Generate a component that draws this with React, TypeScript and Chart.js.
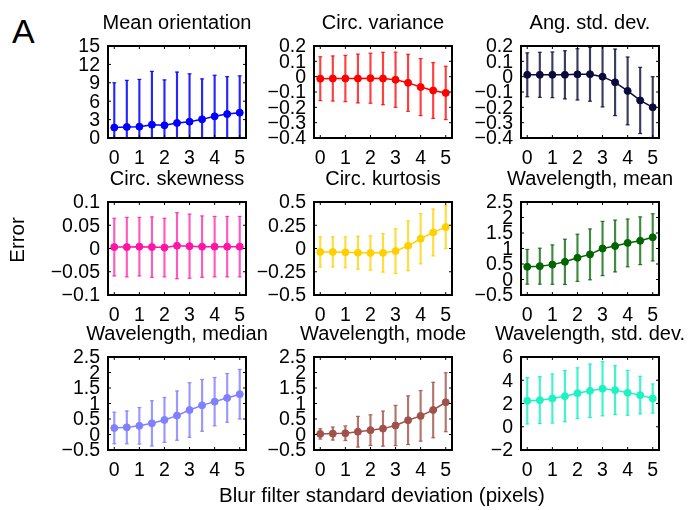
import React, { useEffect, useRef } from "react";
import { Chart, registerables } from "chart.js";

Chart.register(...registerables);

// ---------- data ----------
const X_VALUES = [0, 0.5, 1, 1.5, 2, 2.5, 3, 3.5, 4, 4.5, 5];
const X_TICKS = [0, 1, 2, 3, 4, 5];

const TITLES = [
  "Mean orientation",
  "Circ. variance",
  "Ang. std. dev.",
  "Circ. skewness",
  "Circ. kurtosis",
  "Wavelength, mean",
  "Wavelength, median",
  "Wavelength, mode",
  "Wavelength, std. dev.",
];

const meanOrientationMean = [1.7, 1.8, 1.85, 2.17, 2.07, 2.45, 2.66, 3.04, 3.53, 3.9, 4.13];
const meanOrientationErr = [7.3, 7.6, 7.7, 8.7, 7.4, 8.3, 7.8, 6.6, 6.7, 6.1, 6.0];

const circVarianceMean = [-0.013, -0.012, -0.012, -0.012, -0.01, -0.012, -0.02, -0.04, -0.068, -0.09, -0.106];
const circVarianceErr = [0.143, 0.147, 0.151, 0.159, 0.163, 0.171, 0.18, 0.186, 0.186, 0.182, 0.174];

const angStdMean = [0.012, 0.012, 0.012, 0.012, 0.015, 0.016, 0.0, -0.037, -0.093, -0.155, -0.2];
const angStdErr = [0.143, 0.147, 0.149, 0.157, 0.167, 0.176, 0.197, 0.217, 0.221, 0.216, 0.2];

const circSkewMean = [0.003, 0.003, 0.004, 0.003, 0.002, 0.006, 0.005, 0.004, 0.004, 0.004, 0.004];
const circSkewErr = [0.062, 0.064, 0.063, 0.065, 0.063, 0.071, 0.069, 0.066, 0.065, 0.065, 0.065];

const circKurtMean = [-0.037, -0.037, -0.041, -0.045, -0.048, -0.047, -0.028, 0.029, 0.105, 0.173, 0.23];
const circKurtErr = [0.162, 0.162, 0.166, 0.177, 0.184, 0.207, 0.24, 0.268, 0.27, 0.252, 0.23];

const wlMeanMean = [0.41, 0.43, 0.48, 0.57, 0.7, 0.81, 1.0, 1.08, 1.18, 1.25, 1.36];
const wlMeanErr = [0.56, 0.58, 0.635, 0.73, 0.76, 0.82, 0.875, 0.835, 0.77, 0.77, 0.76];

const wlMedianMean = [0.21, 0.23, 0.28, 0.36, 0.47, 0.61, 0.79, 0.94, 1.06, 1.18, 1.3];
const wlMedianErr = [0.51, 0.53, 0.59, 0.73, 0.725, 0.795, 0.88, 0.835, 0.78, 0.785, 0.8];

const wlModeMean = [0.02, 0.03, 0.04, 0.09, 0.14, 0.19, 0.29, 0.46, 0.6, 0.79, 1.04];
const wlModeErr = [0.165, 0.21, 0.235, 0.495, 0.495, 0.565, 0.65, 0.785, 0.815, 0.895, 0.95];

const wlStdMean = [2.23, 2.29, 2.43, 2.63, 2.89, 3.09, 3.27, 3.15, 2.92, 2.72, 2.43];
const wlStdErr = [1.99, 2.02, 2.11, 2.2, 2.18, 2.3, 2.33, 2.1, 1.93, 1.62, 1.25];

const MEANS = [meanOrientationMean, circVarianceMean, angStdMean, circSkewMean, circKurtMean, wlMeanMean, wlMedianMean, wlModeMean, wlStdMean];
const ERRS = [meanOrientationErr, circVarianceErr, angStdErr, circSkewErr, circKurtErr, wlMeanErr, wlMedianErr, wlModeErr, wlStdErr];

const Y_TICKS = [
  [0, 3, 6, 9, 12, 15],
  [-0.4, -0.3, -0.2, -0.1, 0, 0.1, 0.2],
  [-0.4, -0.3, -0.2, -0.1, 0, 0.1, 0.2],
  [-0.1, -0.05, 0, 0.05, 0.1],
  [-0.5, -0.25, 0, 0.25, 0.5],
  [-0.5, 0, 0.5, 1, 1.5, 2, 2.5],
  [-0.5, 0, 0.5, 1, 1.5, 2, 2.5],
  [-0.5, 0, 0.5, 1, 1.5, 2, 2.5],
  [-2, 0, 2, 4, 6],
];

const X_LABEL = "Blur filter standard deviation (pixels)";
const Y_LABEL = "Error";
const PANEL_LETTER = "A";

// ---------- styles / layout ----------
const LINE_COLORS = ["#0000ff", "#ff0000", "#0b0b3b", "#ff14a5", "#ffd000", "#006400", "#8080ff", "#a0524a", "#1ef2c3"];
const BAR_COLORS = [
  "rgba(0,0,255,0.85)",
  "rgba(255,0,0,0.75)",
  "rgba(11,11,59,0.8)",
  "rgba(255,20,165,0.7)",
  "rgba(255,208,0,0.75)",
  "rgba(0,100,0,0.75)",
  "rgba(128,128,255,0.8)",
  "rgba(160,82,74,0.8)",
  "rgba(30,242,195,0.85)",
];

const FONT = '"Liberation Sans", Arial, Helvetica, sans-serif';
const COL_LEFT = [108, 314, 521];
const ROW_TOP = [46, 202, 357];
const ROW_H = [92, 93, 93];
const BOX_W = 138;
const L = 72;
const R = 48;
const T = 42;
const B = 34;

function fmt(v: number): string {
  const s = String(Math.abs(v));
  return v < 0 ? "\u2212" + s : s;
}

const boxPlugin = {
  id: "matlabBox",
  afterDraw(chart: any) {
    const { ctx, chartArea: a, scales } = chart;
    ctx.save();
    ctx.strokeStyle = "#000";
    ctx.lineWidth = 1;
    ctx.beginPath();
    for (const t of scales.x.ticks) {
      const px = scales.x.getPixelForValue(t.value);
      ctx.moveTo(px, a.bottom);
      ctx.lineTo(px, a.bottom - 3);
      ctx.moveTo(px, a.top);
      ctx.lineTo(px, a.top + 3);
    }
    for (const t of scales.y.ticks) {
      const py = scales.y.getPixelForValue(t.value);
      ctx.moveTo(a.left, py);
      ctx.lineTo(a.left + 3, py);
      ctx.moveTo(a.right, py);
      ctx.lineTo(a.right - 3, py);
    }
    ctx.stroke();
    ctx.lineWidth = 2;
    ctx.strokeRect(a.left, a.top, a.right - a.left, a.bottom - a.top);
    const title = chart.options.plugins.panelTitle?.text;
    if (title) {
      ctx.fillStyle = "#000";
      ctx.font = `20px ${FONT}`;
      ctx.textAlign = "center";
      ctx.textBaseline = "middle";
      ctx.fillText(title, (a.left + a.right) / 2, a.top - 22.5);
    }
    ctx.restore();
  },
};

function Panel({ index }: { index: number }) {
  const ref = useRef<HTMLCanvasElement>(null);
  const col = index % 3;
  const row = Math.floor(index / 3);
  const W = L + BOX_W + R;
  const H = T + ROW_H[row] + B;
  const left = COL_LEFT[col] - L;
  const top = ROW_TOP[row] - T;

  useEffect(() => {
    const mean = MEANS[index];
    const err = ERRS[index];
    const yt = Y_TICKS[index];
    const color = LINE_COLORS[index];
    const barColor = BAR_COLORS[index];
    const chart = new Chart(ref.current as HTMLCanvasElement, {
      type: "line",
      data: {
        datasets: [
          {
            type: "line",
            data: X_VALUES.map((x, i) => ({ x, y: mean[i] })),
            borderColor: color,
            backgroundColor: color,
            pointBackgroundColor: color,
            pointBorderColor: color,
            pointRadius: 3.5,
            pointBorderWidth: 1,
            borderWidth: 1.5,
            tension: 0,
            clip: 0,
          },
          {
            type: "bar",
            data: X_VALUES.map((x, i) => ({ x, y: [mean[i] - err[i], mean[i] + err[i]] })),
            backgroundColor: barColor,
            borderWidth: 0,
            barThickness: 1.5,
            clip: 0,
          },
          {
            type: "line",
            showLine: false,
            data: X_VALUES.map((x, i) => ({ x, y: mean[i] - err[i] })),
            pointStyle: "line",
            pointRadius: 2,
            pointBorderWidth: 1.2,
            pointBorderColor: barColor,
            borderColor: barColor,
            clip: 0,
          },
          {
            type: "line",
            showLine: false,
            data: X_VALUES.map((x, i) => ({ x, y: mean[i] + err[i] })),
            pointStyle: "line",
            pointRadius: 2,
            pointBorderWidth: 1.2,
            pointBorderColor: barColor,
            borderColor: barColor,
            clip: 0,
          },
        ] as any,
      },
      options: {
        responsive: false,
        animation: false,
        devicePixelRatio: 1,
        events: [],
        layout: { padding: { left: 0, right: R, top: T, bottom: 0 } },
        plugins: {
          legend: { display: false },
          tooltip: { enabled: false },
          title: { display: false },
          panelTitle: { text: TITLES[index] },
        } as any,
        scales: {
          x: {
            type: "linear",
            min: -0.25,
            max: 5.25,
            offset: false,
            grid: { display: false, drawTicks: false },
            border: { display: false },
            ticks: {
              color: "#000",
              font: { family: FONT, size: 19.5 },
              padding: 9,
              autoSkip: false,
              maxRotation: 0,
              callback: (v: any) => fmt(Number(v)),
            },
            afterBuildTicks: (s: any) => {
              s.ticks = X_TICKS.map((v) => ({ value: v }));
            },
            afterFit: (s: any) => {
              s.height = B;
            },
          },
          y: {
            type: "linear",
            min: yt[0],
            max: yt[yt.length - 1],
            grid: { display: false, drawTicks: false },
            border: { display: false },
            ticks: {
              color: "#000",
              font: { family: FONT, size: 19.5 },
              padding: 8,
              labelOffset: 1,
              autoSkip: false,
              callback: (v: any) => fmt(Number(v)),
            },
            afterBuildTicks: (s: any) => {
              s.ticks = yt.map((v) => ({ value: v }));
            },
            afterFit: (s: any) => {
              s.width = L;
            },
          },
        },
      } as any,
      plugins: [boxPlugin],
    });
    return () => chart.destroy();
  }, [index]);

  return (
    <canvas
      ref={ref}
      width={W}
      height={H}
      style={{ position: "absolute", left, top, width: W, height: H }}
    />
  );
}

export default function App() {
  return (
    <div
      style={{
        position: "absolute",
        left: 0,
        top: 0,
        width: 693,
        height: 510,
        background: "#fff",
        overflow: "hidden",
        fontFamily: FONT,
        color: "#000",
      }}
    >
      {TITLES.map((_, i) => (
        <Panel key={i} index={i} />
      ))}
      <div
        style={{
          position: "absolute",
          left: 12,
          top: 13.5,
          fontSize: 34,
          lineHeight: "34px",
          whiteSpace: "nowrap",
        }}
      >
        {PANEL_LETTER}
      </div>
      <div
        style={{
          position: "absolute",
          left: 17,
          top: 240,
          fontSize: 20.5,
          whiteSpace: "nowrap",
          transform: "translate(-50%, -50%) rotate(-90deg)",
        }}
      >
        {Y_LABEL}
      </div>
      <div
        style={{
          position: "absolute",
          left: 382,
          top: 495,
          fontSize: 20.5,
          whiteSpace: "nowrap",
          transform: "translate(-50%, -50%)",
        }}
      >
        {X_LABEL}
      </div>
    </div>
  );
}
